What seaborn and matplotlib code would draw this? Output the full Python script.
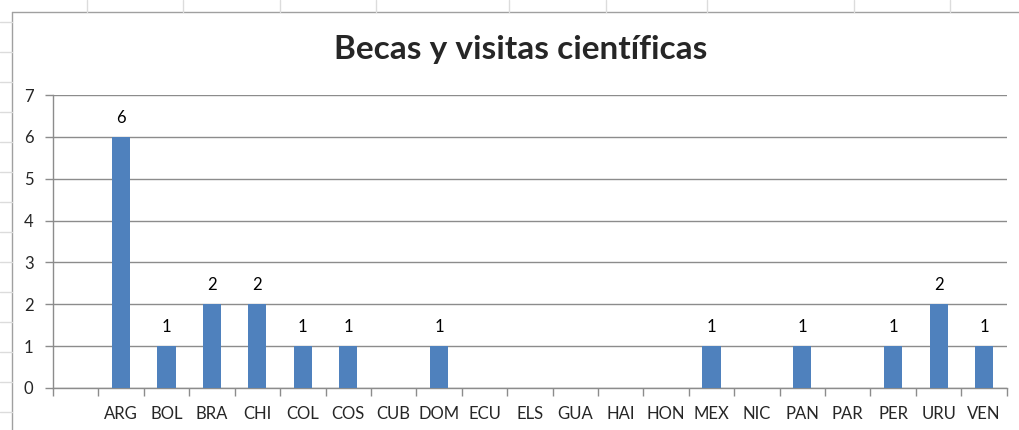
import numpy as np
import pandas as pd
import seaborn as sns
import matplotlib.pyplot as plt
from matplotlib.lines import Line2D

# datos (el primer hueco esta vacio en la hoja)
paises = ["", "ARG", "BOL", "BRA", "CHI", "COL", "COS", "CUB", "DOM", "ECU", "ELS",
          "GUA", "HAI", "HON", "MEX", "NIC", "PAN", "PAR", "PER", "URU", "VEN"]
becas = [np.nan, 6, 1, 2, 2, 1, 1, np.nan, 1, np.nan, np.nan,
         np.nan, np.nan, np.nan, 1, np.nan, 1, np.nan, 1, 2, 1]
titulo = "Becas y visitas científicas"

sns.set_style("white")
plt.rcParams['font.family'] = ['Lato', 'DejaVu Sans']

df = pd.DataFrame({'pais': paises, 'becas': becas})

fig = plt.figure(figsize=(10.2, 4.3), dpi=100)
ax = fig.add_axes([0.052, 0.0977, 0.935, 0.681])

sns.barplot(data=df.dropna(), x='pais', y='becas', order=paises, color='#4F81BD',
            width=0.4, saturation=1, linewidth=0, ax=ax, zorder=3)

for cont in ax.containers:
    ax.bar_label(cont, fmt='%d', padding=8, fontsize=12, color='black')

ax.set_ylim(0, 7)
ax.set_xlim(-0.5, len(paises) - 0.5)
ax.set_yticks(range(0, 8))
ax.yaxis.grid(True, color='#8c8c8c', linewidth=1, zorder=0)
ax.set_xlabel('')
ax.set_ylabel('')
ax.tick_params(axis='y', labelsize=12, length=6, width=1, color='#8c8c8c', pad=8, left=True)
ax.tick_params(axis='x', which='major', labelsize=12, length=0, pad=13)
ax.set_xticks(np.arange(-0.5, len(paises), 1), minor=True)
ax.tick_params(axis='x', which='minor', length=6, width=1, color='#8c8c8c', bottom=True)
for lado in ['top', 'right']:
    ax.spines[lado].set_visible(False)
for lado in ['left', 'bottom']:
    ax.spines[lado].set_color('#8c8c8c')
    ax.spines[lado].set_linewidth(1)

fig.text(0.51, 0.885, titulo, ha='center', va='center', fontsize=24, fontweight='bold')

# marco del grafico y rejilla de la hoja de calculo
W, H = 1020, 430
fig.add_artist(Line2D([12 / W, 1], [1 - 12 / H, 1 - 12 / H], color='#a0a0a0', lw=1))
fig.add_artist(Line2D([12 / W, 12 / W], [0, 1 - 12 / H], color='#a0a0a0', lw=1))
for xg in [87, 183, 280, 376, 509, 606, 707, 854, 950]:
    fig.add_artist(Line2D([xg / W, xg / W], [1 - 12 / H, 1], color='#dcdcdc', lw=1))
for yg in range(22, 430, 30):
    fig.add_artist(Line2D([0, 12 / W], [1 - yg / H, 1 - yg / H], color='#dcdcdc', lw=1))

fig.savefig('out.png', dpi=100, facecolor='white')
